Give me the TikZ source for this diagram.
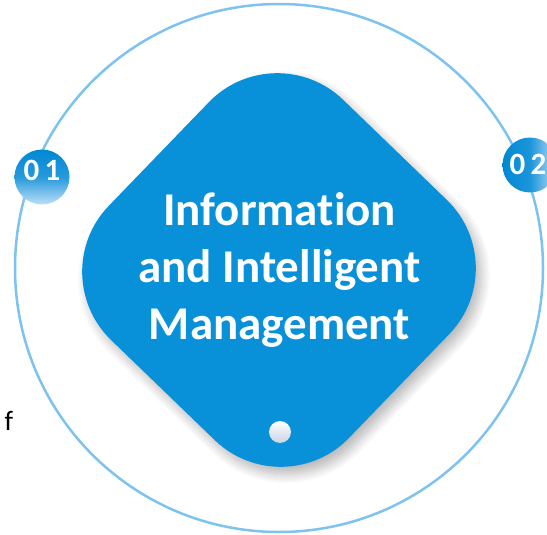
\documentclass[tikz,border=0pt]{standalone}
\usepackage{fontspec}
\setmainfont{Carlito}[Ligatures={NoCommon,NoContextual}]
\usetikzlibrary{positioning,shadows.blur}

\definecolor{ringblue}{HTML}{7EC3EF}
\definecolor{boxblue}{HTML}{0890D8}
\definecolor{badgedark}{HTML}{0088D4}
\definecolor{badgelight}{HTML}{BCDFF8}
\definecolor{holegray}{HTML}{C9D3E2}

\tikzset{
  ring/.style={draw=ringblue, line width=2.5pt},
  bigbox/.style={rectangle, fill=boxblue, minimum size=334pt, inner sep=0pt,
    rounded corners=95pt,
    blur shadow={shadow xshift=5pt, shadow yshift=-7pt, shadow blur steps=14,
      shadow blur radius=10pt, shadow opacity=30}},
  badge/.style={circle, minimum size=55pt, inner sep=0pt},
  badgetext/.style={text=white, font=\fontsize{31}{31}\selectfont\bfseries},
  hole/.style={circle, minimum size=22pt, inner sep=0pt, top color=white, bottom color=holegray}
}

\begin{document}
\begin{tikzpicture}[x=1pt,y=-1pt]
    \useasboundingbox (0,0) rectangle (547,535);
    \draw [ring] (279,268) circle [radius=264];

    % middle block
    \node [bigbox, rotate=46] (box) at (279,270) {};
    \node [text=white, align=center, font=\fontsize{47}{57}\selectfont\bfseries] (title) at (279.5,270)
        {Information\\and Intelligent\\Management};
    \node [hole] (hole) at (280,432) {};

    % badges on the ring
    \node [badge, top color=badgedark, bottom color=badgelight, middle color=badgedark!80!badgelight] (b1) at (42,177) {};
    \node [badgetext] (n1) at (42,170) {0\,1};
    \node [badge, left color=badgedark, right color=badgelight, middle color=badgedark!85!badgelight] (b2) at (530,165) {};
    \node [badgetext] (n2) at (528,164) {0\,2};

    \node [font=\fontsize{28}{28}\selectfont, anchor=base west] (cut) at (1,430) {f};
\end{tikzpicture}
\end{document}
